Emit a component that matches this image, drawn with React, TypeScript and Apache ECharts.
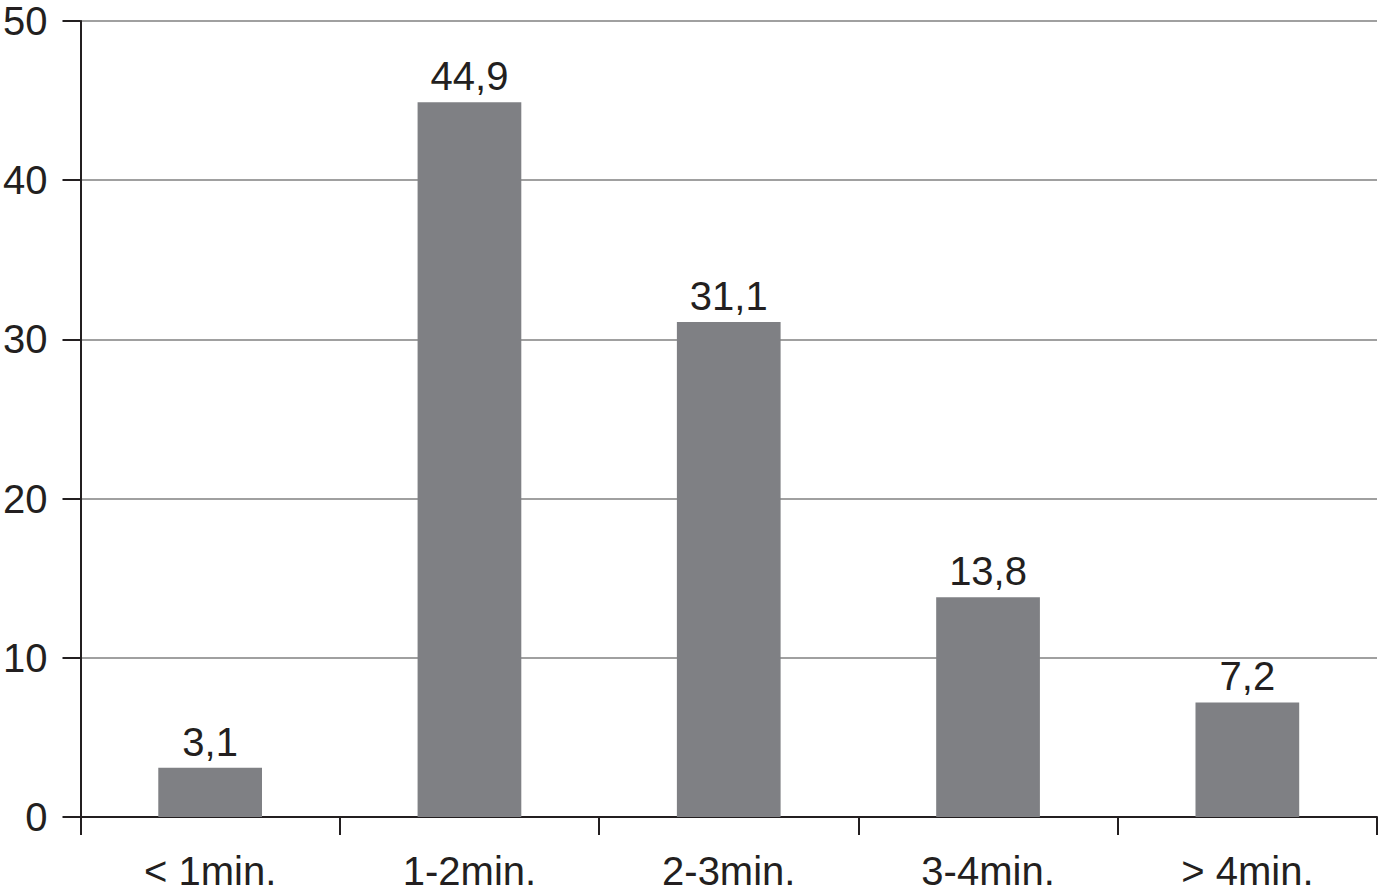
import React, { useEffect, useRef } from "react";
import * as echarts from "echarts";

const categories = ["< 1min.", "1-2min.", "2-3min.", "3-4min.", "> 4min."];
const values = [3.1, 44.9, 31.1, 13.8, 7.2];
const yTicks = [0, 10, 20, 30, 40, 50];

const FONT = "Liberation Sans, Arial, Helvetica, sans-serif";

export default function App() {
  const ref = useRef<HTMLDivElement>(null);
  useEffect(() => {
    document.body.style.margin = "0";
    const chart = echarts.init(ref.current!, null, { renderer: "svg" });
    chart.setOption({
      animation: false,
      backgroundColor: "#ffffff",
      textStyle: { fontFamily: FONT },
      grid: { left: 78, right: 2, top: 21, bottom: 77, containLabel: false },
      xAxis: {
        type: "category",
        data: categories,
        boundaryGap: true,
        axisLine: { show: true, lineStyle: { color: "#231f20", width: 2 } },
        axisTick: { show: true, alignWithLabel: false, length: 18, lineStyle: { color: "#231f20", width: 2 } },
        axisLabel: { color: "#231f20", fontSize: 40, margin: 34, fontFamily: FONT },
        splitLine: { show: false },
      },
      yAxis: {
        type: "value",
        min: yTicks[0],
        max: yTicks[yTicks.length - 1],
        interval: 10,
        axisLine: { show: true, lineStyle: { color: "#231f20", width: 2 } },
        axisTick: { show: true, length: 18, lineStyle: { color: "#231f20", width: 2 } },
        axisLabel: { color: "#231f20", fontSize: 40, margin: 33, fontFamily: FONT },
        splitLine: { show: true, lineStyle: { color: "#a0a0a0", width: 2 } },
      },
      series: [
        {
          type: "bar",
          data: values,
          barWidth: "40%",
          itemStyle: { color: "#7f8084" },
          label: {
            show: true,
            position: "top",
            distance: 6,
            color: "#231f20",
            fontSize: 40,
            fontFamily: FONT,
            formatter: (p: any) => String(p.value).replace(".", ","),
          },
        },
      ],
    });
    return () => chart.dispose();
  }, []);
  return <div ref={ref} style={{ width: 1379, height: 894 }} />;
}
